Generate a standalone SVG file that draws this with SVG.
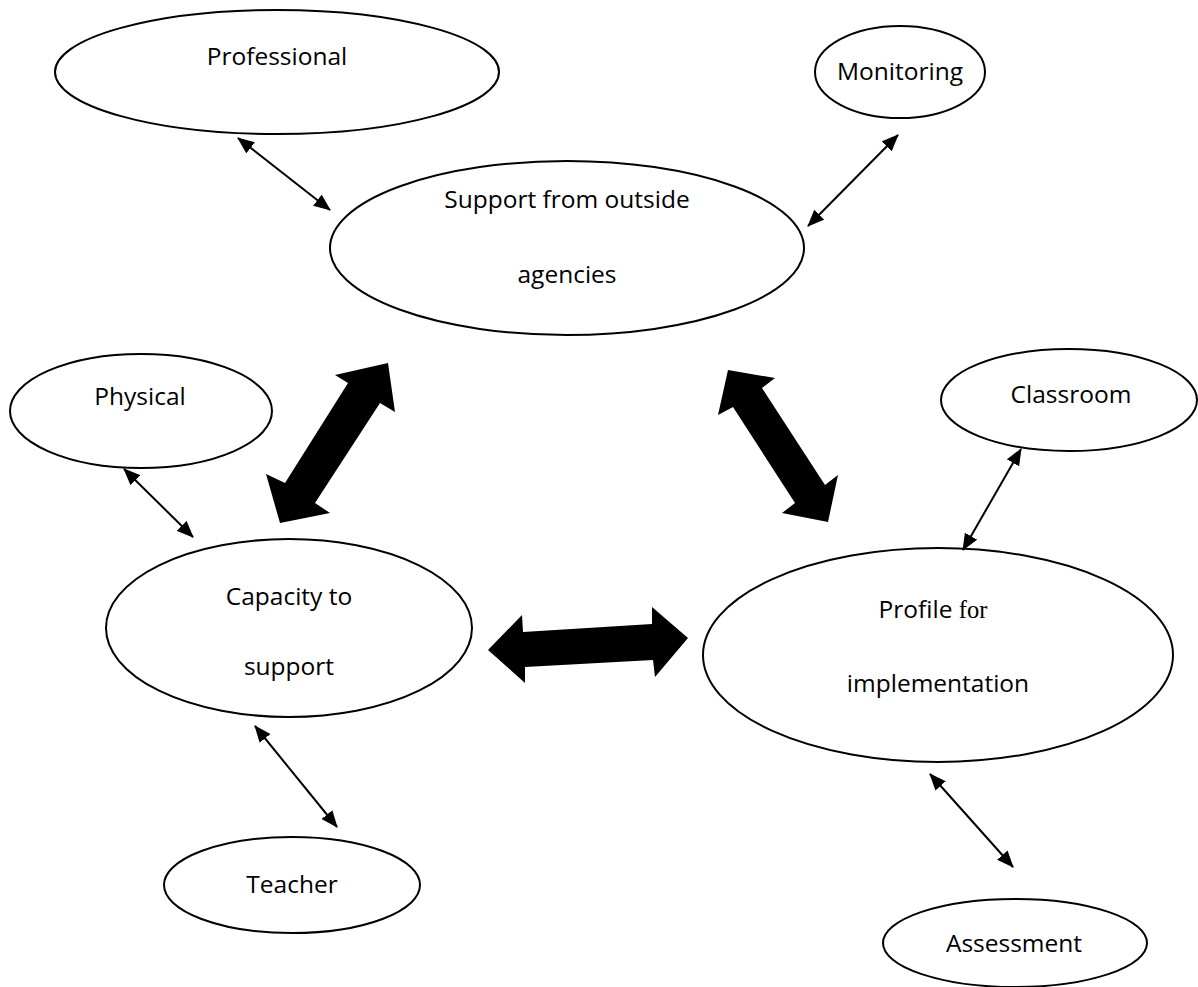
<svg xmlns="http://www.w3.org/2000/svg" width="1198" height="987" viewBox="0 0 1198 987">
  <style>
    .node ellipse { fill: #ffffff; stroke: #000000; stroke-width: 2; }
    .node text { font-family: "Open Sans", "Liberation Sans", sans-serif; font-size: 24.5px; fill: #000000; text-anchor: middle; }
    .serif { font-family: "Liberation Serif", "Times New Roman", serif; }
    .link { stroke: #000000; stroke-width: 2; fill: none; marker-start: url(#head); marker-end: url(#head); }
    .bold { fill: #000000; stroke: none; }
  </style>
  <defs>
    <marker id="head" viewBox="0 0 17 14" refX="16" refY="7" markerWidth="17" markerHeight="14" markerUnits="userSpaceOnUse" orient="auto-start-reverse">
      <path d="M0,0 L17,7 L0,14 z" fill="#000000"/>
    </marker>
  </defs>

  <g id="nodes">
    <g id="professional" class="node">
      <ellipse cx="277" cy="72" rx="222" ry="62"/>
      <text x="277" y="65">Professional</text>
    </g>
    <g id="monitoring" class="node">
      <ellipse cx="900" cy="72" rx="85" ry="46"/>
      <text x="900" y="80">Monitoring</text>
    </g>
    <g id="support" class="node">
      <ellipse cx="567" cy="248" rx="237" ry="87"/>
      <text x="567" y="208">Support from outside</text>
      <text x="567" y="283">agencies</text>
    </g>
    <g id="physical" class="node">
      <ellipse cx="141" cy="411" rx="131" ry="57"/>
      <text x="140" y="405">Physical</text>
    </g>
    <g id="classroom" class="node">
      <ellipse cx="1069" cy="400" rx="128" ry="51"/>
      <text x="1071" y="403">Classroom</text>
    </g>
    <g id="capacity" class="node">
      <ellipse cx="289" cy="628" rx="183" ry="89"/>
      <text x="289" y="605">Capacity to</text>
      <text x="289" y="675">support</text>
    </g>
    <g id="profile" class="node">
      <ellipse cx="938" cy="655" rx="235" ry="107"/>
      <text x="933" y="618">Profile <tspan class="serif">for</tspan></text>
      <text x="938" y="692">implementation</text>
    </g>
    <g id="teacher" class="node">
      <ellipse cx="292" cy="885" rx="128" ry="48"/>
      <text x="292" y="893">Teacher</text>
    </g>
    <g id="assessment" class="node">
      <ellipse cx="1015" cy="943" rx="132" ry="44"/>
      <text x="1014" y="952">Assessment</text>
    </g>
  </g>

  <g id="connectors">
    <!-- thin two-way links -->
    <line class="link" x1="238" y1="138" x2="330" y2="210"/>
    <line class="link" x1="898" y1="135" x2="808" y2="226"/>
    <line class="link" x1="124" y1="469" x2="193" y2="537"/>
    <line class="link" x1="1021" y1="449" x2="963" y2="550"/>
    <line class="link" x1="255" y1="726" x2="337" y2="827"/>
    <line class="link" x1="930" y1="774" x2="1013" y2="867"/>
    <!-- heavy two-way block arrows -->
    <polygon class="bold" points="388,363 395,412 380,403 315,503 330,513 280,523 266,474 285,483 348,383 335,375"/>
    <polygon class="bold" points="728,370 775,378 762,388 825,485 838,475 828,522 782,513 795,503 733,407 718,415"/>
    <polygon class="bold" points="488,650 522,615 523,632 652,624 652,607 688,638 655,677 653,660 525,667 525,683"/>
  </g>
</svg>
